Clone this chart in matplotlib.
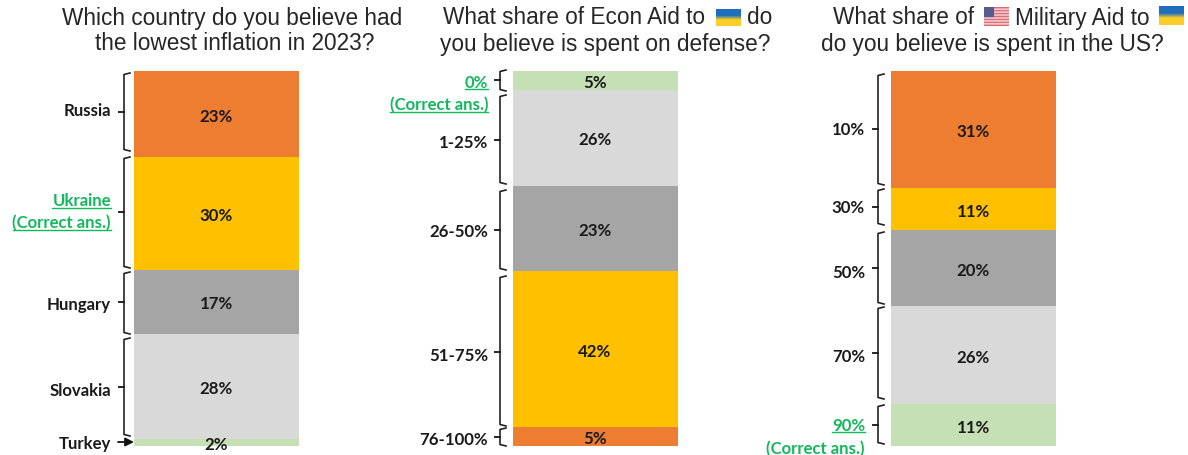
import numpy as np
import matplotlib
matplotlib.use('Agg')
import matplotlib.pyplot as plt

W, H = 1188, 456

# Stacked shares, top to bottom
labels_1 = ['Russia', 'Ukraine', 'Hungary', 'Slovakia', 'Turkey']
values_1 = [23, 30, 17, 28, 2]
colors_1 = ['#ED7D31', '#FFC000', '#A5A5A5', '#D9D9D9', '#C5E0B4']

labels_2 = ['0%', '1-25%', '26-50%', '51-75%', '76-100%']
values_2 = [5, 26, 23, 42, 5]
colors_2 = ['#C5E0B4', '#D9D9D9', '#A5A5A5', '#FFC000', '#ED7D31']

labels_3 = ['10%', '30%', '50%', '70%', '90%']
values_3 = [31, 11, 20, 26, 11]
colors_3 = ['#ED7D31', '#FFC000', '#A5A5A5', '#D9D9D9', '#C5E0B4']

GREEN = '#12B85C'
DARK = '#1A1A1A'
TITLE = '#262626'

fig = plt.figure(figsize=(W / 100, H / 100), dpi=100)

# overlay in pixel coordinates, y pointing down
ov = fig.add_axes([0, 0, 1, 1], zorder=5)
ov.set_xlim(0, W)
ov.set_ylim(H, 0)
ov.axis('off')
ov.patch.set_alpha(0)


def stacked_bar(x0, x1, values, colors):
    ax = fig.add_axes([x0 / W, 1 - 447 / H, (x1 - x0) / W, 375 / H])
    bottom = 0
    for v, c in zip(values, colors):
        ax.bar(0, v, bottom=bottom, width=1, color=c, linewidth=0)
        ax.annotate(f'{v}%', (0, bottom + v / 2), xytext=(0, -1.2), textcoords='offset points',
                    ha='center', va='center', fontsize=12.2, fontweight='bold',
                    family='Lato', color=DARK, annotation_clip=False, zorder=4)
        bottom += v
    ax.set_xlim(-0.5, 0.5)
    ax.set_ylim(sum(values), 0)
    ax.axis('off')


def bracket(x, y0, y1, ym):
    # left-facing brace with a small tick at the label height
    ov.plot([x + 6, x, x, x + 6], [y0, y0 + 1.5, y1 - 1.5, y1], color='#222222', lw=1.2,
            solid_joinstyle='round')
    ov.plot([x - 5, x], [ym, ym], color='#222222', lw=1.4)


def side_label(x, y, text, color=DARK, underline=False):
    t = ov.text(x, y + 1.5, text, ha='right', va='center', fontsize=12.1, fontweight='bold',
                family='Lato', color=color)
    if underline:
        fig.canvas.draw()
        bb = t.get_window_extent()
        ov.plot([bb.x0, bb.x1], [y + 8.5, y + 8.5], color=color, lw=1.0)


stacked_bar(134, 299, values_1, colors_1)
stacked_bar(512.5, 677.5, values_2, colors_2)
stacked_bar(890.5, 1055.5, values_3, colors_3)


# Titles
def title(x, y, text, ha='center'):
    ov.text(x, y, text, ha=ha, va='center', fontsize=16.3, family='Liberation Sans', color=TITLE)


title(232, 18, 'Which country do you believe had')
title(235, 44, 'the lowest inflation in 2023?')
title(443, 18, 'What share of Econ Aid to', ha='left')
title(747, 18, 'do', ha='left')
title(605, 44, 'you believe is spent on defense?')
title(833, 18, 'What share of', ha='left')
title(1015, 18, 'Military Aid to', ha='left')
title(992, 44, 'do you believe is spent in the US?')


def flag_ua(x0, y0, w=25, h=18):
    img = np.array([[[30, 110, 190]], [[30, 110, 190]], [[250, 205, 40]], [[250, 205, 40]]], dtype=np.uint8)
    ov.imshow(img, extent=[x0, x0 + w, y0 + h, y0], aspect='auto', interpolation='bilinear', zorder=3)


def flag_us(x0, y0, w=25, h=19):
    stripes = np.zeros((13, 25, 3), dtype=np.uint8)
    stripes[::2] = [222, 105, 115]
    stripes[1::2] = [245, 225, 225]
    stripes[:7, :10] = [85, 90, 145]
    ov.imshow(stripes, extent=[x0, x0 + w, y0 + h, y0], aspect='auto', interpolation='bilinear', zorder=3)


flag_ua(716, 10, h=17)
flag_ua(1159, 7, h=19)
flag_us(984, 8)
ov.set_xlim(0, W)
ov.set_ylim(H, 0)

# Panel 1 labels and braces
for y0, y1, ym in [(74, 152, 113), (158, 269, 213), (273, 335, 303), (339, 437, 388)]:
    bracket(124, y0, y1, ym)
side_label(111, 110, labels_1[0])
side_label(111, 200, labels_1[1], GREEN, True)
side_label(111, 222, '(Correct ans.)', GREEN, True)
side_label(111, 304, labels_1[2])
side_label(111, 390, labels_1[3])
side_label(111, 443, labels_1[4])
ov.annotate('', xy=(134, 443), xytext=(118, 443),
            arrowprops=dict(arrowstyle='-|>,head_length=0.5,head_width=0.25', color='#111111', lw=1.3,
                            shrinkA=0, shrinkB=0))

# Panel 2 labels and braces
for y0, y1, ym in [(71, 92, 81), (96, 185, 141), (191, 271, 231), (277, 427, 353), (429, 447, 438)]:
    bracket(500, y0, y1, ym)
side_label(488, 81, labels_2[0], GREEN, True)
side_label(488, 104, '(Correct ans.)', GREEN, True)
side_label(488, 142, labels_2[1])
side_label(488, 231, labels_2[2])
side_label(488, 355, labels_2[3])
side_label(488, 439, labels_2[4])

# Panel 3 labels and braces
for y0, y1, ym in [(75, 186, 130), (190, 226, 208), (233, 305, 269), (308, 400, 354), (406, 445, 426)]:
    bracket(878, y0, y1, ym)
side_label(865, 129, labels_3[0])
side_label(865, 207, labels_3[1])
side_label(865, 272, labels_3[2])
side_label(865, 356, labels_3[3])
side_label(865, 425, labels_3[4], GREEN, True)
side_label(865, 448, '(Correct ans.)', GREEN)

fig.savefig('out.png', dpi=100, facecolor='white')
